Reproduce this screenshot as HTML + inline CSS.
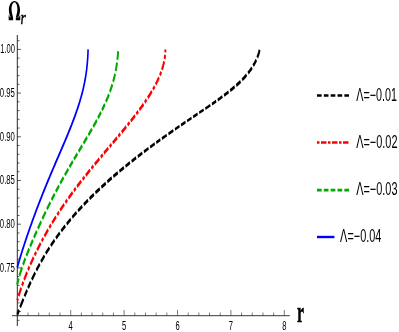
<!DOCTYPE html>
<html><head><meta charset="utf-8"><title>plot</title>
<style>html,body{margin:0;padding:0;background:#fff;}svg{display:block;will-change:transform}text{font-family:"Liberation Sans",sans-serif;fill:#000}.se{font-family:"Liberation Serif",serif;fill:#000}</style></head><body>
<svg width="399" height="332" viewBox="0 0 399 332">
<rect width="399" height="332" fill="#fff"/>
<g stroke="#222" fill="none">
<line x1="17.3" y1="35" x2="17.3" y2="326" stroke="#111" stroke-width="0.9"/>
<line x1="12" y1="315.7" x2="289.8" y2="315.7" stroke-width="0.9"/>
<line x1="17.3" y1="320.34" x2="19.50" y2="320.34" stroke-width="0.75"/>
<line x1="17.3" y1="311.60" x2="20.90" y2="311.60" stroke-width="0.75"/>
<line x1="17.3" y1="302.86" x2="19.50" y2="302.86" stroke-width="0.75"/>
<line x1="17.3" y1="294.12" x2="19.50" y2="294.12" stroke-width="0.75"/>
<line x1="17.3" y1="285.38" x2="19.50" y2="285.38" stroke-width="0.75"/>
<line x1="17.3" y1="276.64" x2="19.50" y2="276.64" stroke-width="0.75"/>
<line x1="17.3" y1="267.90" x2="20.90" y2="267.90" stroke-width="0.75"/>
<line x1="17.3" y1="259.16" x2="19.50" y2="259.16" stroke-width="0.75"/>
<line x1="17.3" y1="250.42" x2="19.50" y2="250.42" stroke-width="0.75"/>
<line x1="17.3" y1="241.68" x2="19.50" y2="241.68" stroke-width="0.75"/>
<line x1="17.3" y1="232.94" x2="19.50" y2="232.94" stroke-width="0.75"/>
<line x1="17.3" y1="224.20" x2="20.90" y2="224.20" stroke-width="0.75"/>
<line x1="17.3" y1="215.46" x2="19.50" y2="215.46" stroke-width="0.75"/>
<line x1="17.3" y1="206.72" x2="19.50" y2="206.72" stroke-width="0.75"/>
<line x1="17.3" y1="197.98" x2="19.50" y2="197.98" stroke-width="0.75"/>
<line x1="17.3" y1="189.24" x2="19.50" y2="189.24" stroke-width="0.75"/>
<line x1="17.3" y1="180.50" x2="20.90" y2="180.50" stroke-width="0.75"/>
<line x1="17.3" y1="171.76" x2="19.50" y2="171.76" stroke-width="0.75"/>
<line x1="17.3" y1="163.02" x2="19.50" y2="163.02" stroke-width="0.75"/>
<line x1="17.3" y1="154.28" x2="19.50" y2="154.28" stroke-width="0.75"/>
<line x1="17.3" y1="145.54" x2="19.50" y2="145.54" stroke-width="0.75"/>
<line x1="17.3" y1="136.80" x2="20.90" y2="136.80" stroke-width="0.75"/>
<line x1="17.3" y1="128.06" x2="19.50" y2="128.06" stroke-width="0.75"/>
<line x1="17.3" y1="119.32" x2="19.50" y2="119.32" stroke-width="0.75"/>
<line x1="17.3" y1="110.58" x2="19.50" y2="110.58" stroke-width="0.75"/>
<line x1="17.3" y1="101.84" x2="19.50" y2="101.84" stroke-width="0.75"/>
<line x1="17.3" y1="93.10" x2="20.90" y2="93.10" stroke-width="0.75"/>
<line x1="17.3" y1="84.36" x2="19.50" y2="84.36" stroke-width="0.75"/>
<line x1="17.3" y1="75.62" x2="19.50" y2="75.62" stroke-width="0.75"/>
<line x1="17.3" y1="66.88" x2="19.50" y2="66.88" stroke-width="0.75"/>
<line x1="17.3" y1="58.14" x2="19.50" y2="58.14" stroke-width="0.75"/>
<line x1="17.3" y1="49.40" x2="20.90" y2="49.40" stroke-width="0.75"/>
<line x1="17.3" y1="40.66" x2="19.50" y2="40.66" stroke-width="0.75"/>
<line x1="17.30" y1="315.7" x2="17.30" y2="310.00" stroke-width="0.6"/>
<line x1="27.98" y1="315.7" x2="27.98" y2="312.50" stroke-width="0.6"/>
<line x1="38.66" y1="315.7" x2="38.66" y2="312.50" stroke-width="0.6"/>
<line x1="49.34" y1="315.7" x2="49.34" y2="312.50" stroke-width="0.6"/>
<line x1="60.02" y1="315.7" x2="60.02" y2="312.50" stroke-width="0.6"/>
<line x1="70.70" y1="315.7" x2="70.70" y2="310.00" stroke-width="0.6"/>
<line x1="81.38" y1="315.7" x2="81.38" y2="312.50" stroke-width="0.6"/>
<line x1="92.06" y1="315.7" x2="92.06" y2="312.50" stroke-width="0.6"/>
<line x1="102.74" y1="315.7" x2="102.74" y2="312.50" stroke-width="0.6"/>
<line x1="113.42" y1="315.7" x2="113.42" y2="312.50" stroke-width="0.6"/>
<line x1="124.10" y1="315.7" x2="124.10" y2="310.00" stroke-width="0.6"/>
<line x1="134.78" y1="315.7" x2="134.78" y2="312.50" stroke-width="0.6"/>
<line x1="145.46" y1="315.7" x2="145.46" y2="312.50" stroke-width="0.6"/>
<line x1="156.14" y1="315.7" x2="156.14" y2="312.50" stroke-width="0.6"/>
<line x1="166.82" y1="315.7" x2="166.82" y2="312.50" stroke-width="0.6"/>
<line x1="177.50" y1="315.7" x2="177.50" y2="310.00" stroke-width="0.6"/>
<line x1="188.18" y1="315.7" x2="188.18" y2="312.50" stroke-width="0.6"/>
<line x1="198.86" y1="315.7" x2="198.86" y2="312.50" stroke-width="0.6"/>
<line x1="209.54" y1="315.7" x2="209.54" y2="312.50" stroke-width="0.6"/>
<line x1="220.22" y1="315.7" x2="220.22" y2="312.50" stroke-width="0.6"/>
<line x1="230.90" y1="315.7" x2="230.90" y2="310.00" stroke-width="0.6"/>
<line x1="241.58" y1="315.7" x2="241.58" y2="312.50" stroke-width="0.6"/>
<line x1="252.26" y1="315.7" x2="252.26" y2="312.50" stroke-width="0.6"/>
<line x1="262.94" y1="315.7" x2="262.94" y2="312.50" stroke-width="0.6"/>
<line x1="273.62" y1="315.7" x2="273.62" y2="312.50" stroke-width="0.6"/>
<line x1="284.30" y1="315.7" x2="284.30" y2="310.00" stroke-width="0.6"/>
</g>
<text transform="translate(14.9 53.30) scale(0.6 1)" font-size="12.6" text-anchor="end">1.00</text>
<text transform="translate(14.9 97.00) scale(0.615 1)" font-size="12.6" text-anchor="end">0.95</text>
<text transform="translate(14.9 140.70) scale(0.615 1)" font-size="12.6" text-anchor="end">0.90</text>
<text transform="translate(14.9 184.40) scale(0.615 1)" font-size="12.6" text-anchor="end">0.85</text>
<text transform="translate(14.9 228.10) scale(0.615 1)" font-size="12.6" text-anchor="end">0.80</text>
<text transform="translate(14.9 271.80) scale(0.615 1)" font-size="12.6" text-anchor="end">0.75</text>
<text transform="translate(70.70 329.6) scale(0.6 1)" font-size="12.6" text-anchor="middle">4</text>
<text transform="translate(124.10 329.6) scale(0.6 1)" font-size="12.6" text-anchor="middle">5</text>
<text transform="translate(177.50 329.6) scale(0.6 1)" font-size="12.6" text-anchor="middle">6</text>
<text transform="translate(230.90 329.6) scale(0.6 1)" font-size="12.6" text-anchor="middle">7</text>
<text transform="translate(284.30 329.6) scale(0.6 1)" font-size="12.6" text-anchor="middle">8</text>
<path transform="translate(3 0) scale(0.07536)" d="M104 234 C90 204 78 180 78 130 C78 65 111 12 152 12 C193 12 226 65 226 130 C226 180 214 204 200 234 L170 234 C177 200 191 165 191 120 C191 70 174 29 152 29 C130 29 113 70 113 120 C113 165 127 200 134 234 Z M75 270 L75 204 L82 204 Q84 230 100 232 L134 232 L134 270 Z M229 270 L229 204 L222 204 Q220 230 204 232 L170 232 L170 270 Z" fill="#000"/>
<text class="se" transform="translate(20.6 24) scale(0.7 1)" font-style="italic" font-size="19.5" stroke="#000" stroke-width="0.45">r</text>
<text class="se" transform="translate(297.1 321.6) scale(0.555 1)" font-weight="bold" font-size="28.5" stroke="#000" stroke-width="0.5">r</text>
<g transform="scale(0.58 1)" fill="none" stroke-linecap="butt" stroke-linejoin="round">
<path d="M29.84 314.70 L30.61 313.51 L31.38 312.33 L32.15 311.15 L32.92 309.97 M34.72 307.24 L36.13 305.13 L37.55 303.03 L38.99 300.94 L40.43 298.86 M42.22 296.32 L43.34 294.75 L44.47 293.19 L45.61 291.63 L46.75 290.08 M48.37 287.93 L49.53 286.40 L50.71 284.87 L51.89 283.35 L53.09 281.84 M54.92 279.57 L56.34 277.83 L57.78 276.09 L59.24 274.37 L60.70 272.67 M62.73 270.35 L64.17 268.74 L65.62 267.14 L67.09 265.55 L68.57 263.97 M70.65 261.79 L72.16 260.24 L73.67 258.70 L75.21 257.17 L76.75 255.66 M78.92 253.57 L80.49 252.09 L82.08 250.61 L83.67 249.15 L85.28 247.71 M87.53 245.71 L89.16 244.29 L90.80 242.88 L92.45 241.49 L94.11 240.10 M96.44 238.19 L98.12 236.83 L99.81 235.48 L101.51 234.14 L103.22 232.81 M105.61 230.98 L107.33 229.67 L109.06 228.38 L110.80 227.10 L112.55 225.82 M114.99 224.06 L116.74 222.82 L118.49 221.58 L120.26 220.35 L122.02 219.13 M124.55 217.41 L126.40 216.17 L128.26 214.93 L130.12 213.70 L131.99 212.48 M134.56 210.82 L136.38 209.66 L138.21 208.51 L140.04 207.36 L141.87 206.22 M144.44 204.65 L146.28 203.52 L148.13 202.41 L149.99 201.30 L151.84 200.20 M154.44 198.67 L156.31 197.59 L158.18 196.51 L160.05 195.43 L161.93 194.37 M164.56 192.89 L166.44 191.84 L168.33 190.79 L170.22 189.75 L172.12 188.71 M174.77 187.28 L176.67 186.25 L178.57 185.24 L180.48 184.23 L182.39 183.22 M185.06 181.82 L186.98 180.83 L188.90 179.84 L190.82 178.86 L192.75 177.88 M195.43 176.52 L197.36 175.55 L199.30 174.58 L201.23 173.62 L203.17 172.67 M407.23 85.47 L409.14 84.48 L411.03 83.47 L412.91 82.44 L414.79 81.40 M417.46 79.84 L419.42 78.66 L421.36 77.45 L423.28 76.20 L425.18 74.92 M427.71 73.12 L429.44 71.82 L431.14 70.49 L432.81 69.12 L434.44 67.70 M436.56 65.73 L437.97 64.32 L439.33 62.87 L440.65 61.37 L441.90 59.82 M443.60 57.48 L444.77 55.67 L445.83 53.81 L446.78 51.88 L447.61 49.89" stroke="#000000" stroke-width="3.4"/><path d="M205.87 171.34 L207.81 170.39 L209.76 169.45 L211.70 168.52 L213.65 167.58 M396.84 90.57 L398.78 89.65 L400.71 88.72 L402.64 87.78 L404.56 86.83" stroke="#000000" stroke-width="3.3"/><path d="M216.37 166.29 L218.32 165.37 L220.28 164.45 L222.23 163.53 L224.19 162.62 M226.92 161.35 L228.89 160.45 L230.85 159.55 L232.81 158.65 L234.78 157.76" stroke="#000000" stroke-width="3.2"/><path d="M237.53 156.52 L239.50 155.64 L241.47 154.76 L243.44 153.88 L245.42 153.00 M248.17 151.79 L250.15 150.92 L252.13 150.05 L254.11 149.19 L256.09 148.33 M386.29 95.34 L388.25 94.48 L390.21 93.60 L392.17 92.72 L394.12 91.83" stroke="#000000" stroke-width="3.1"/><path d="M258.86 147.14 L260.84 146.28 L262.82 145.43 L264.81 144.59 L266.80 143.74 M269.41 142.63 L271.17 141.89 L272.93 141.15 L274.69 140.41 L276.45 139.68 M375.38 100.01 L377.41 99.15 L379.45 98.29 L381.48 97.43 L383.50 96.56" stroke="#000000" stroke-width="3.0"/><path d="M279.13 138.56 L281.21 137.69 L283.30 136.83 L285.38 135.97 L287.47 135.11 M290.40 133.90 L292.52 133.04 L294.64 132.17 L296.76 131.31 L298.88 130.45 M301.70 129.31 L303.63 128.53 L305.56 127.76 L307.49 126.98 L309.42 126.21 M365.47 104.08 L367.28 103.34 L369.09 102.61 L370.89 101.86 L372.70 101.12" stroke="#000000" stroke-width="2.9"/><path d="M312.12 125.14 L314.05 124.37 L315.98 123.60 L317.92 122.83 L319.85 122.07 M322.55 121.00 L324.48 120.24 L326.42 119.48 L328.36 118.72 L330.29 117.96 M332.99 116.90 L334.93 116.15 L336.87 115.39 L338.81 114.63 L340.74 113.87 M343.44 112.82 L345.38 112.06 L347.32 111.30 L349.25 110.54 L351.19 109.77 M354.05 108.64 L356.21 107.79 L358.38 106.93 L360.54 106.06 L362.70 105.19" stroke="#000000" stroke-width="2.8"/>
<path d="M29.79 300.75 L30.09 300.11 L30.39 299.47 L30.70 298.84 L31.01 298.21 M32.16 295.93 L33.24 293.88 L34.35 291.85 L35.48 289.83 L36.64 287.83 M38.00 285.55 L38.55 284.64 L39.11 283.74 L39.67 282.85 L40.23 281.95 M41.61 279.81 L42.87 277.88 L44.16 275.97 L45.46 274.07 L46.78 272.18 M48.32 270.02 L48.94 269.17 L49.56 268.32 L50.18 267.47 L50.81 266.62 M52.34 264.58 L53.74 262.75 L55.15 260.93 L56.58 259.12 L58.02 257.32 M59.69 255.26 L60.36 254.45 L61.04 253.64 L61.71 252.83 L62.39 252.02 M64.04 250.08 L65.55 248.33 L67.06 246.59 L68.59 244.87 L70.13 243.15 M71.91 241.19 L72.63 240.42 L73.34 239.64 L74.07 238.87 L74.79 238.09 M76.56 236.23 L78.16 234.55 L79.78 232.89 L81.40 231.23 L83.04 229.59 M84.93 227.71 L85.69 226.97 L86.45 226.23 L87.21 225.49 L87.97 224.75 M89.82 222.97 L91.51 221.37 L93.20 219.79 L94.90 218.21 L96.61 216.64 M98.59 214.85 L99.38 214.14 L100.17 213.43 L100.96 212.73 L101.75 212.02 M103.68 210.33 L105.43 208.81 L107.19 207.29 L108.95 205.78 L110.73 204.29 M112.77 202.57 L113.58 201.90 L114.40 201.22 L115.22 200.54 L116.04 199.87 M118.03 198.24 L119.84 196.78 L121.65 195.33 L123.47 193.88 L125.29 192.44 M127.39 190.80 L128.23 190.14 L129.07 189.49 L129.91 188.84 L130.75 188.19 M132.79 186.63 L134.64 185.22 L136.49 183.82 L138.35 182.43 L140.21 181.04 M142.35 179.45 L143.20 178.81 L144.06 178.18 L144.92 177.56 L145.77 176.93 M147.85 175.41 L149.73 174.05 L151.61 172.69 L153.50 171.33 L155.38 169.98 M157.56 168.43 L158.42 167.82 L159.29 167.20 L160.20 166.55 L161.12 165.91 M163.33 164.35 L165.34 162.94 L167.34 161.54 L169.35 160.14 L171.36 158.74 M173.67 157.14 L174.60 156.50 L175.52 155.86 L176.37 155.27 L177.22 154.68 M179.29 153.26 L181.15 151.97 L183.02 150.69 L184.89 149.40 L186.76 148.12 M188.91 146.65 L189.76 146.06 L190.62 145.47 L191.47 144.89 L192.32 144.30 M194.39 142.88 L196.26 141.60 L198.13 140.31 L199.99 139.02 L201.86 137.74 M204.00 136.25 L204.85 135.66 L205.70 135.07 L206.62 134.44 L207.53 133.80 M209.74 132.26 L211.74 130.87 L213.73 129.47 L215.72 128.06 L217.70 126.66 M219.98 125.03 L220.89 124.38 L221.79 123.73 L222.64 123.12 L223.49 122.51 M225.55 121.02 L227.40 119.66 L229.24 118.30 L231.09 116.93 L232.92 115.56 M235.02 113.97 L235.86 113.33 L236.69 112.70 L237.52 112.06 L238.35 111.42 M240.36 109.86 L242.16 108.43 L243.95 107.00 L245.73 105.56 L247.50 104.10 M249.52 102.41 L250.33 101.74 L251.12 101.06 L251.95 100.34 L252.78 99.62 M254.77 97.87 L256.55 96.27 L258.31 94.65 L260.05 93.01 L261.77 91.34 M263.72 89.40 L264.49 88.62 L265.25 87.83 L265.96 87.07 L266.67 86.32 M268.36 84.46 L269.86 82.75 L271.32 81.01 L272.74 79.24 L274.13 77.44 M275.65 75.33 L276.24 74.47 L276.82 73.61 L277.39 72.74 L277.94 71.86 M279.22 69.70 L280.30 67.70 L281.30 65.66 L282.21 63.58 L283.01 61.46 M283.80 58.97 L284.06 57.97 L284.31 56.96 L284.52 55.91 L284.71 54.85 M285.03 52.27 L285.09 51.55 L285.12 50.84 L285.15 50.12 L285.15 49.40" stroke="#ff0000" stroke-width="3.4"/>
<path d="M29.67 284.80 L30.24 283.20 L30.85 281.61 L31.50 280.04 L32.19 278.49 M33.55 275.64 L34.63 273.54 L35.75 271.45 L36.92 269.38 L38.11 267.34 M39.67 264.76 L40.70 263.11 L41.75 261.46 L42.81 259.83 L43.88 258.20 M45.46 255.84 L46.66 254.08 L47.87 252.33 L49.09 250.58 L50.32 248.84 M52.00 246.48 L53.19 244.83 L54.38 243.19 L55.58 241.55 L56.79 239.92 M58.49 237.63 L59.72 235.99 L60.96 234.34 L62.21 232.71 L63.46 231.07 M65.31 228.66 L66.73 226.84 L68.14 225.02 L69.57 223.21 L71.00 221.40 M73.01 218.89 L74.46 217.09 L75.91 215.30 L77.37 213.52 L78.83 211.74 M80.89 209.27 L82.37 207.50 L83.86 205.74 L85.36 203.99 L86.86 202.24 M88.86 199.94 L90.21 198.39 L91.58 196.84 L92.95 195.30 L94.32 193.76 M96.25 191.63 L97.64 190.10 L99.03 188.58 L100.43 187.07 L101.84 185.56 M103.83 183.43 L105.28 181.89 L106.74 180.36 L108.20 178.83 L109.67 177.31 M111.74 175.17 L113.25 173.63 L114.75 172.10 L116.26 170.57 L117.78 169.05 M119.83 166.99 L121.26 165.56 L122.70 164.14 L124.13 162.72 L125.57 161.30 M127.59 159.32 L129.05 157.90 L130.50 156.48 L131.96 155.05 L133.42 153.64 M135.53 151.58 L137.10 150.06 L138.67 148.54 L140.23 147.02 L141.80 145.50 M143.98 143.38 L145.55 141.86 L147.11 140.33 L148.67 138.81 L150.22 137.28 M152.39 135.14 L153.94 133.60 L155.48 132.05 L157.02 130.51 L158.56 128.95 M160.73 126.74 L162.30 125.11 L163.87 123.47 L165.43 121.83 L166.98 120.18 M168.96 118.02 L170.27 116.59 L171.56 115.14 L172.85 113.69 L174.12 112.23 M175.88 110.17 L177.12 108.69 L178.35 107.19 L179.56 105.68 L180.77 104.16 M182.55 101.82 L183.91 100.00 L185.24 98.15 L186.54 96.28 L187.81 94.39 M189.47 91.80 L190.59 89.97 L191.67 88.12 L192.72 86.25 L193.73 84.36 M195.07 81.69 L195.97 79.75 L196.84 77.79 L197.65 75.81 L198.42 73.81 M199.41 70.98 L200.07 68.93 L200.67 66.85 L201.22 64.77 L201.73 62.67 M202.35 59.73 L202.74 57.62 L203.10 55.50 L203.42 53.37 L203.71 51.24" stroke="#00aa00" stroke-width="3.4"/>
<path d="M29.77 267.70 L30.79 265.51 L31.85 263.32 L32.93 261.13 L34.04 258.95 L35.17 256.76 L36.32 254.57 L37.49 252.38 L38.67 250.19 L39.88 248.00 L41.10 245.82 L42.33 243.63 L43.58 241.44 L44.84 239.25 L46.12 237.06 L47.40 234.87 L48.70 232.68 L50.01 230.50 L51.33 228.31 L52.66 226.12 L54.01 223.93 L55.36 221.74 L56.73 219.55 L58.10 217.37 L59.49 215.18 L60.89 212.99 L62.30 210.80 L63.72 208.61 L65.15 206.42 L66.60 204.23 L68.05 202.05 L69.52 199.86 L71.00 197.67 L72.49 195.48 L73.99 193.29 L75.50 191.10 L77.02 188.92 L78.55 186.73 L80.10 184.54 L81.65 182.35 L83.22 180.16 L84.79 177.97 L86.37 175.78 L87.96 173.60 L89.56 171.41 L91.17 169.22 L92.78 167.03 L94.39 164.84 L96.01 162.65 L97.64 160.46 L99.26 158.28 L100.89 156.09 L102.52 153.90 L104.14 151.71 L105.76 149.52 L107.38 147.33 L109.00 145.15 L110.60 142.96 L112.20 140.77 L113.79 138.58 L115.37 136.39 L116.93 134.20 L118.48 132.01 L120.01 129.83 L121.53 127.64 L123.02 125.45 L124.49 123.26 L125.94 121.07 L127.36 118.88 L128.76 116.70 L130.12 114.51 L131.46 112.32 L132.76 110.13 L134.03 107.94 L135.26 105.75 L136.46 103.56 L137.62 101.38 L138.73 99.19 L139.81 97.00 L140.84 94.81 L141.83 92.62 L142.77 90.43 L143.67 88.25 L144.52 86.06 L145.32 83.87 L146.07 81.68 L146.78 79.49 L147.44 77.30 L148.05 75.11 L148.61 72.93 L149.12 70.74 L149.59 68.55 L150.01 66.36 L150.38 64.17 L150.71 61.98 L151.01 59.80 L151.26 57.61 L151.47 55.42 L151.65 53.23 L151.80 51.04 L151.90 49.40" stroke="#0000ff" stroke-width="2.8"/>
<path d="M546.55 95.50 L548.55 95.50 L550.55 95.50 L552.55 95.50 L554.55 95.50 M558.35 95.50 L560.35 95.50 L562.35 95.50 L564.35 95.50 L566.35 95.50 M570.15 95.50 L572.15 95.50 L574.15 95.50 L576.15 95.50 L578.15 95.50 M581.95 95.50 L583.95 95.50 L585.95 95.50 L587.95 95.50 L589.95 95.50 M593.75 95.50 L595.75 95.50 L597.75 95.50 L599.75 95.50 L601.75 95.50" stroke="#000000" stroke-width="2.7"/>
<path d="M546.55 142.50 L547.63 142.50 L548.70 142.50 L549.78 142.50 L550.85 142.50 M553.45 142.50 L555.80 142.50 L558.15 142.50 L560.50 142.50 L562.85 142.50 M565.55 142.50 L566.63 142.50 L567.70 142.50 L568.78 142.50 L569.85 142.50 M572.45 142.50 L574.80 142.50 L577.15 142.50 L579.50 142.50 L581.85 142.50 M584.55 142.50 L585.63 142.50 L586.70 142.50 L587.78 142.50 L588.85 142.50 M591.45 142.50 L593.80 142.50 L596.15 142.50 L598.50 142.50 L600.85 142.50" stroke="#ff0000" stroke-width="2.7"/>
<path d="M546.55 190.10 L548.55 190.10 L550.55 190.10 L552.55 190.10 L554.55 190.10 M558.35 190.10 L560.35 190.10 L562.35 190.10 L564.35 190.10 L566.35 190.10 M570.15 190.10 L572.15 190.10 L574.15 190.10 L576.15 190.10 L578.15 190.10 M581.95 190.10 L583.95 190.10 L585.95 190.10 L587.95 190.10 L589.95 190.10 M593.75 190.10 L595.75 190.10 L597.75 190.10 L599.75 190.10 L601.75 190.10" stroke="#00aa00" stroke-width="2.7"/>
<path d="M546.55 237.00 L547.15 237.00 L547.76 237.00 L548.36 237.00 L548.96 237.00 L549.57 237.00 L550.17 237.00 L550.77 237.00 L551.38 237.00 L551.98 237.00 L552.58 237.00 L553.18 237.00 L553.79 237.00 L554.39 237.00 L554.99 237.00 L555.60 237.00 L556.20 237.00 L556.80 237.00 L557.41 237.00 L558.01 237.00 L558.61 237.00 L559.22 237.00 L559.82 237.00 L560.42 237.00 L561.02 237.00 L561.63 237.00 L562.23 237.00 L562.83 237.00 L563.44 237.00 L564.04 237.00 L564.64 237.00 L565.25 237.00 L565.85 237.00 L566.45 237.00 L567.05 237.00 L567.66 237.00 L568.26 237.00 L568.86 237.00 L569.47 237.00 L570.07 237.00 L570.67 237.00 L571.28 237.00 L571.88 237.00 L572.48 237.00 L573.08 237.00 L573.69 237.00 L574.29 237.00 L574.89 237.00 L575.50 237.00 L576.10 237.00 L576.55 237.00" stroke="#0000ff" stroke-width="2.4"/>
</g>
<text transform="translate(356.2 100.7) scale(0.615 1)" font-size="17.5">Λ=−0.01</text>
<text transform="translate(356.2 147.7) scale(0.624 1)" font-size="17.5">Λ=−0.02</text>
<text transform="translate(356.2 195.2) scale(0.624 1)" font-size="17.5">Λ=−0.03</text>
<text transform="translate(340.1 242.1) scale(0.624 1)" font-size="17.5">Λ=−0.04</text>
</svg></body></html>
